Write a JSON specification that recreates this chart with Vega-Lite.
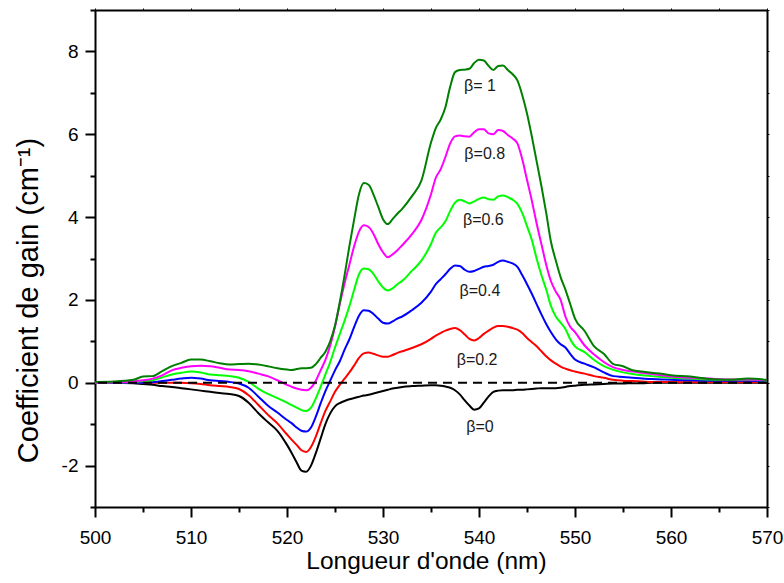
{
  "$schema": "https://vega.github.io/schema/vega-lite/v6.json",
  "width": 672,
  "height": 497,
  "autosize": {"type": "none"},
  "padding": {"left": 95, "top": 10, "right": 17, "bottom": 76},
  "background": "white",
  "config": {"view": {"stroke": null}, "font": "Liberation Sans"},
  "datasets": {
    "curves": [
      {"x": 500, "b0": 0, "b02": 0, "b04": 0, "b06": 0, "b08": 0, "b1": 0.02},
      {"x": 502, "b0": 0, "b02": 0, "b04": 0, "b06": 0.01, "b08": 0.01, "b1": 0.03},
      {"x": 504, "b0": -0.01, "b02": 0, "b04": 0, "b06": 0.02, "b08": 0.03, "b1": 0.07},
      {"x": 505, "b0": -0.03, "b02": 0, "b04": 0, "b06": 0.04, "b08": 0.06, "b1": 0.15},
      {"x": 506, "b0": -0.05, "b02": 0, "b04": 0.01, "b06": 0.06, "b08": 0.1, "b1": 0.16},
      {"x": 507, "b0": -0.08, "b02": 0, "b04": 0.04, "b06": 0.13, "b08": 0.18, "b1": 0.28},
      {"x": 508, "b0": -0.1, "b02": 0, "b04": 0.07, "b06": 0.2, "b08": 0.3, "b1": 0.4},
      {"x": 509, "b0": -0.13, "b02": 0, "b04": 0.1, "b06": 0.24, "b08": 0.36, "b1": 0.48},
      {"x": 510, "b0": -0.16, "b02": -0.01, "b04": 0.12, "b06": 0.27, "b08": 0.4, "b1": 0.56},
      {"x": 511, "b0": -0.19, "b02": -0.03, "b04": 0.1, "b06": 0.25, "b08": 0.41, "b1": 0.56},
      {"x": 512, "b0": -0.22, "b02": -0.06, "b04": 0.06, "b06": 0.2, "b08": 0.4, "b1": 0.52},
      {"x": 513, "b0": -0.25, "b02": -0.08, "b04": 0.04, "b06": 0.18, "b08": 0.36, "b1": 0.47},
      {"x": 514, "b0": -0.27, "b02": -0.1, "b04": 0.02, "b06": 0.16, "b08": 0.32, "b1": 0.44},
      {"x": 515, "b0": -0.32, "b02": -0.15, "b04": -0.02, "b06": 0.12, "b08": 0.31, "b1": 0.45},
      {"x": 516, "b0": -0.48, "b02": -0.3, "b04": -0.12, "b06": 0.02, "b08": 0.28, "b1": 0.46},
      {"x": 517, "b0": -0.73, "b02": -0.53, "b04": -0.33, "b06": -0.14, "b08": 0.22, "b1": 0.44},
      {"x": 518, "b0": -0.95, "b02": -0.77, "b04": -0.55, "b06": -0.27, "b08": 0.16, "b1": 0.4},
      {"x": 519, "b0": -1.16, "b02": -0.98, "b04": -0.72, "b06": -0.37, "b08": 0.06, "b1": 0.35},
      {"x": 520, "b0": -1.5, "b02": -1.25, "b04": -0.9, "b06": -0.48, "b08": -0.05, "b1": 0.32},
      {"x": 520.5, "b0": -1.7, "b02": -1.38, "b04": -0.98, "b06": -0.54, "b08": -0.1, "b1": 0.31},
      {"x": 521, "b0": -1.92, "b02": -1.5, "b04": -1.08, "b06": -0.6, "b08": -0.14, "b1": 0.33},
      {"x": 521.5, "b0": -2.12, "b02": -1.63, "b04": -1.16, "b06": -0.66, "b08": -0.17, "b1": 0.35},
      {"x": 522, "b0": -2.15, "b02": -1.67, "b04": -1.18, "b06": -0.68, "b08": -0.18, "b1": 0.35},
      {"x": 522.5, "b0": -2.0, "b02": -1.55, "b04": -1.08, "b06": -0.6, "b08": -0.12, "b1": 0.36},
      {"x": 523, "b0": -1.7, "b02": -1.3, "b04": -0.82, "b06": -0.38, "b08": 0.05, "b1": 0.45},
      {"x": 523.5, "b0": -1.35, "b02": -0.98, "b04": -0.5, "b06": -0.1, "b08": 0.3, "b1": 0.6},
      {"x": 524, "b0": -1.0, "b02": -0.68, "b04": -0.2, "b06": 0.2, "b08": 0.55, "b1": 0.75},
      {"x": 524.5, "b0": -0.74, "b02": -0.45, "b04": 0.05, "b06": 0.5, "b08": 0.9, "b1": 1.0},
      {"x": 525, "b0": -0.57, "b02": -0.22, "b04": 0.3, "b06": 0.85, "b08": 1.35, "b1": 1.38},
      {"x": 525.5, "b0": -0.49, "b02": -0.05, "b04": 0.52, "b06": 1.18, "b08": 1.9, "b1": 1.95},
      {"x": 526, "b0": -0.44, "b02": 0.1, "b04": 0.8, "b06": 1.5, "b08": 2.4, "b1": 2.6},
      {"x": 526.5, "b0": -0.4, "b02": 0.25, "b04": 1.05, "b06": 1.85, "b08": 2.85, "b1": 3.3},
      {"x": 527, "b0": -0.37, "b02": 0.42, "b04": 1.35, "b06": 2.25, "b08": 3.3, "b1": 3.95},
      {"x": 527.5, "b0": -0.34, "b02": 0.6, "b04": 1.62, "b06": 2.62, "b08": 3.65, "b1": 4.55},
      {"x": 528, "b0": -0.31, "b02": 0.71, "b04": 1.75, "b06": 2.76, "b08": 3.8, "b1": 4.82},
      {"x": 528.5, "b0": -0.29, "b02": 0.73, "b04": 1.74, "b06": 2.74, "b08": 3.76, "b1": 4.78},
      {"x": 529, "b0": -0.26, "b02": 0.7, "b04": 1.66, "b06": 2.63, "b08": 3.6, "b1": 4.55},
      {"x": 529.5, "b0": -0.23, "b02": 0.66, "b04": 1.55, "b06": 2.45, "b08": 3.35, "b1": 4.25},
      {"x": 530, "b0": -0.2, "b02": 0.63, "b04": 1.45, "b06": 2.3, "b08": 3.15, "b1": 3.95},
      {"x": 530.5, "b0": -0.17, "b02": 0.63, "b04": 1.43, "b06": 2.23, "b08": 3.03, "b1": 3.83},
      {"x": 531, "b0": -0.14, "b02": 0.67, "b04": 1.48, "b06": 2.28, "b08": 3.1, "b1": 3.95},
      {"x": 531.5, "b0": -0.12, "b02": 0.72, "b04": 1.55, "b06": 2.38, "b08": 3.2, "b1": 4.08},
      {"x": 532, "b0": -0.1, "b02": 0.76, "b04": 1.6, "b06": 2.46, "b08": 3.32, "b1": 4.2},
      {"x": 533, "b0": -0.08, "b02": 0.84, "b04": 1.75, "b06": 2.7, "b08": 3.58, "b1": 4.5},
      {"x": 534, "b0": -0.07, "b02": 0.93, "b04": 1.93, "b06": 2.95, "b08": 3.93, "b1": 4.88},
      {"x": 535, "b0": -0.06, "b02": 1.06, "b04": 2.2, "b06": 3.35, "b08": 4.55, "b1": 5.8},
      {"x": 535.5, "b0": -0.06, "b02": 1.14, "b04": 2.38, "b06": 3.62, "b08": 4.95, "b1": 6.15},
      {"x": 536, "b0": -0.07, "b02": 1.2, "b04": 2.5, "b06": 3.75, "b08": 5.15, "b1": 6.35},
      {"x": 536.5, "b0": -0.09, "b02": 1.26, "b04": 2.62, "b06": 3.9, "b08": 5.45, "b1": 6.65},
      {"x": 537, "b0": -0.12, "b02": 1.3, "b04": 2.75, "b06": 4.15, "b08": 5.78, "b1": 7.15},
      {"x": 537.5, "b0": -0.18, "b02": 1.32, "b04": 2.83, "b06": 4.35, "b08": 5.95, "b1": 7.5},
      {"x": 538, "b0": -0.28, "b02": 1.27, "b04": 2.82, "b06": 4.42, "b08": 5.97, "b1": 7.55},
      {"x": 538.5, "b0": -0.42, "b02": 1.17, "b04": 2.73, "b06": 4.38, "b08": 5.95, "b1": 7.56},
      {"x": 539, "b0": -0.55, "b02": 1.06, "b04": 2.68, "b06": 4.33, "b08": 5.94, "b1": 7.58},
      {"x": 539.5, "b0": -0.65, "b02": 1.02, "b04": 2.7, "b06": 4.38, "b08": 6.05, "b1": 7.72},
      {"x": 540, "b0": -0.62, "b02": 1.08, "b04": 2.75, "b06": 4.44, "b08": 6.12, "b1": 7.8},
      {"x": 540.5, "b0": -0.48, "b02": 1.18, "b04": 2.8, "b06": 4.47, "b08": 6.12, "b1": 7.78},
      {"x": 541, "b0": -0.33, "b02": 1.26, "b04": 2.82, "b06": 4.43, "b08": 6.02, "b1": 7.65},
      {"x": 541.5, "b0": -0.22, "b02": 1.33, "b04": 2.85, "b06": 4.42, "b08": 6.0, "b1": 7.55},
      {"x": 542, "b0": -0.19, "b02": 1.37, "b04": 2.92, "b06": 4.5, "b08": 6.1, "b1": 7.65},
      {"x": 542.5, "b0": -0.18, "b02": 1.37, "b04": 2.95, "b06": 4.52, "b08": 6.08, "b1": 7.66},
      {"x": 543, "b0": -0.18, "b02": 1.35, "b04": 2.92, "b06": 4.48, "b08": 5.98, "b1": 7.55},
      {"x": 543.5, "b0": -0.18, "b02": 1.32, "b04": 2.88, "b06": 4.42, "b08": 5.9, "b1": 7.45},
      {"x": 544, "b0": -0.17, "b02": 1.28, "b04": 2.8, "b06": 4.32, "b08": 5.78, "b1": 7.3},
      {"x": 544.5, "b0": -0.17, "b02": 1.2, "b04": 2.6, "b06": 4.1, "b08": 5.4, "b1": 6.95},
      {"x": 545, "b0": -0.16, "b02": 1.08, "b04": 2.38, "b06": 3.78, "b08": 4.9, "b1": 6.5},
      {"x": 545.5, "b0": -0.15, "b02": 0.98, "b04": 2.15, "b06": 3.45, "b08": 4.4, "b1": 5.95},
      {"x": 546, "b0": -0.14, "b02": 0.88, "b04": 1.9, "b06": 3.0, "b08": 3.85, "b1": 5.35},
      {"x": 546.5, "b0": -0.13, "b02": 0.76, "b04": 1.65, "b06": 2.6, "b08": 3.35, "b1": 4.75},
      {"x": 547, "b0": -0.13, "b02": 0.64, "b04": 1.42, "b06": 2.25, "b08": 2.85, "b1": 4.1},
      {"x": 547.5, "b0": -0.13, "b02": 0.54, "b04": 1.22, "b06": 1.85, "b08": 2.45, "b1": 3.4},
      {"x": 548, "b0": -0.13, "b02": 0.46, "b04": 1.05, "b06": 1.6, "b08": 2.2, "b1": 2.95},
      {"x": 548.5, "b0": -0.12, "b02": 0.39, "b04": 0.93, "b06": 1.45, "b08": 2.0, "b1": 2.55},
      {"x": 549, "b0": -0.1, "b02": 0.34, "b04": 0.85, "b06": 1.3, "b08": 1.6, "b1": 2.25},
      {"x": 549.5, "b0": -0.08, "b02": 0.3, "b04": 0.7, "b06": 1.05, "b08": 1.35, "b1": 1.9},
      {"x": 550, "b0": -0.07, "b02": 0.27, "b04": 0.56, "b06": 0.88, "b08": 1.22, "b1": 1.55},
      {"x": 551, "b0": -0.05, "b02": 0.22, "b04": 0.46, "b06": 0.74, "b08": 0.9, "b1": 1.25},
      {"x": 552, "b0": -0.04, "b02": 0.16, "b04": 0.37, "b06": 0.55, "b08": 0.68, "b1": 0.88},
      {"x": 553, "b0": -0.03, "b02": 0.12, "b04": 0.25, "b06": 0.4, "b08": 0.5, "b1": 0.7},
      {"x": 554, "b0": -0.02, "b02": 0.07, "b04": 0.16, "b06": 0.31, "b08": 0.37, "b1": 0.45},
      {"x": 555, "b0": -0.02, "b02": 0.05, "b04": 0.14, "b06": 0.25, "b08": 0.31, "b1": 0.4},
      {"x": 556, "b0": -0.01, "b02": 0.04, "b04": 0.12, "b06": 0.21, "b08": 0.27, "b1": 0.3},
      {"x": 557, "b0": -0.01, "b02": 0.03, "b04": 0.1, "b06": 0.18, "b08": 0.24, "b1": 0.27},
      {"x": 558, "b0": 0, "b02": 0.02, "b04": 0.09, "b06": 0.16, "b08": 0.21, "b1": 0.24},
      {"x": 559, "b0": 0, "b02": 0.02, "b04": 0.08, "b06": 0.14, "b08": 0.18, "b1": 0.22},
      {"x": 560, "b0": 0, "b02": 0.02, "b04": 0.07, "b06": 0.12, "b08": 0.15, "b1": 0.18},
      {"x": 562, "b0": 0, "b02": 0.01, "b04": 0.06, "b06": 0.1, "b08": 0.12, "b1": 0.15},
      {"x": 564, "b0": 0, "b02": 0.01, "b04": 0.05, "b06": 0.08, "b08": 0.1, "b1": 0.09},
      {"x": 566, "b0": 0, "b02": 0.01, "b04": 0.05, "b06": 0.07, "b08": 0.08, "b1": 0.07},
      {"x": 568, "b0": 0, "b02": 0.01, "b04": 0.05, "b06": 0.07, "b08": 0.08, "b1": 0.1},
      {"x": 570, "b0": 0, "b02": 0.01, "b04": 0.04, "b06": 0.05, "b08": 0.06, "b1": 0.07}
    ],
    "labels": [
      {"x": 540.1, "y": 7.17, "label": "β= 1"},
      {"x": 540.6, "y": 5.52, "label": "β=0.8"},
      {"x": 540.45, "y": 3.93, "label": "β=0.6"},
      {"x": 540.1, "y": 2.21, "label": "β=0.4"},
      {"x": 539.8, "y": 0.55, "label": "β=0.2"},
      {"x": 540.1, "y": -1.06, "label": "β=0"}
    ],
    "zero": [{"y": 0}]
  },
  "resolve": {"axis": {"x": "independent", "y": "independent"}},
  "layer": [
    {
      "data": {"name": "curves"},
      "mark": {"type": "line", "color": "#000000", "strokeWidth": 2, "interpolate": "monotone"},
      "encoding": {
        "x": {"field": "x", "type": "quantitative", "scale": {"domain": [500, 570], "nice": false, "zero": false},
          "axis": {"orient": "bottom", "values": [500, 510, 520, 530, 540, 550, 560, 570],
            "labelExpr": "'' + datum.value",
            "tickSize": 10, "tickWidth": 2, "tickColor": "black", "domainColor": "black", "domainWidth": 2, "grid": false,
            "labelFont": "Liberation Sans", "labelFontSize": 19, "labelColor": "black", "labelPadding": 11,
            "labelFlush": false, "labelOverlap": false,
            "title": "Longueur d'onde (nm)", "titleFont": "Liberation Sans", "titleFontSize": 24.5, "titleFontWeight": "normal",
            "titleColor": "black", "titleX": 331, "titleY": 61, "titleAlign": "center", "titleBaseline": "alphabetic"}},
        "y": {"field": "b0", "type": "quantitative", "scale": {"domain": [-3, 9], "nice": false, "zero": false},
          "axis": {"orient": "left", "values": [-2, 0, 2, 4, 6, 8],
            "labelExpr": "'' + datum.value",
            "tickSize": 10, "tickWidth": 2, "tickColor": "black", "domainColor": "black", "domainWidth": 2, "grid": false,
            "labelFont": "Liberation Sans", "labelFontSize": 19, "labelColor": "black", "labelPadding": 7,
            "labelFlush": false, "labelOverlap": false,
            "title": "Coefficient de gain (cm⁻¹)", "titleFont": "Liberation Sans", "titleFontSize": 29, "titleFontWeight": "normal",
            "titleColor": "black", "titleAngle": -90, "titleX": -67, "titleY": 290, "titleAlign": "center", "titleBaseline": "middle"}}
      }
    },
    {
      "data": {"name": "curves"},
      "mark": {"type": "line", "color": "#ff0000", "strokeWidth": 2, "interpolate": "monotone"},
      "encoding": {
        "x": {"field": "x", "type": "quantitative",
          "axis": {"orient": "bottom", "values": [505, 515, 525, 535, 545, 555, 565],
            "labels": false, "domain": false, "tickSize": 5, "tickWidth": 2, "tickColor": "black", "grid": false, "title": null}},
        "y": {"field": "b02", "type": "quantitative",
          "axis": {"orient": "left", "values": [-3, -1, 1, 3, 5, 7, 9],
            "labels": false, "domain": false, "tickSize": 5, "tickWidth": 2, "tickColor": "black", "grid": false, "title": null}}
      }
    },
    {
      "data": {"name": "curves"},
      "mark": {"type": "line", "color": "#0000ff", "strokeWidth": 2, "interpolate": "monotone"},
      "encoding": {
        "x": {"field": "x", "type": "quantitative", "axis": null},
        "y": {"field": "b04", "type": "quantitative", "axis": null}
      }
    },
    {
      "data": {"name": "curves"},
      "mark": {"type": "line", "color": "#00ff00", "strokeWidth": 2, "interpolate": "monotone"},
      "encoding": {
        "x": {"field": "x", "type": "quantitative", "axis": null},
        "y": {"field": "b06", "type": "quantitative", "axis": null}
      }
    },
    {
      "data": {"name": "curves"},
      "mark": {"type": "line", "color": "#ff00ff", "strokeWidth": 2, "interpolate": "monotone"},
      "encoding": {
        "x": {"field": "x", "type": "quantitative", "axis": null},
        "y": {"field": "b08", "type": "quantitative", "axis": null}
      }
    },
    {
      "data": {"name": "curves"},
      "mark": {"type": "line", "color": "#008000", "strokeWidth": 2, "interpolate": "monotone"},
      "encoding": {
        "x": {"field": "x", "type": "quantitative",
          "axis": {"orient": "top", "values": [500, 505, 510, 515, 520, 525, 530, 535, 540, 545, 550, 555, 560, 565, 570],
            "labels": false, "tickSize": 2, "tickWidth": 1, "tickColor": "black", "domainColor": "black", "domainWidth": 2, "grid": false, "title": null}},
        "y": {"field": "b1", "type": "quantitative",
          "axis": {"orient": "right", "values": [-3, -2, -1, 0, 1, 2, 3, 4, 5, 6, 7, 8, 9],
            "labels": false, "tickSize": 2, "tickWidth": 1, "tickColor": "black", "domainColor": "black", "domainWidth": 2, "grid": false, "title": null}}
      }
    },
    {
      "data": {"name": "zero"},
      "mark": {"type": "rule", "color": "black", "strokeWidth": 2, "strokeDash": [9, 6]},
      "encoding": {
        "y": {"field": "y", "type": "quantitative", "axis": null}
      }
    },
    {
      "data": {"name": "labels"},
      "mark": {"type": "text", "font": "Liberation Sans", "fontSize": 16, "color": "#1a1a1a", "align": "center", "baseline": "middle"},
      "encoding": {
        "x": {"field": "x", "type": "quantitative", "axis": null},
        "y": {"field": "y", "type": "quantitative", "axis": null},
        "text": {"field": "label"}
      }
    }
  ]
}
